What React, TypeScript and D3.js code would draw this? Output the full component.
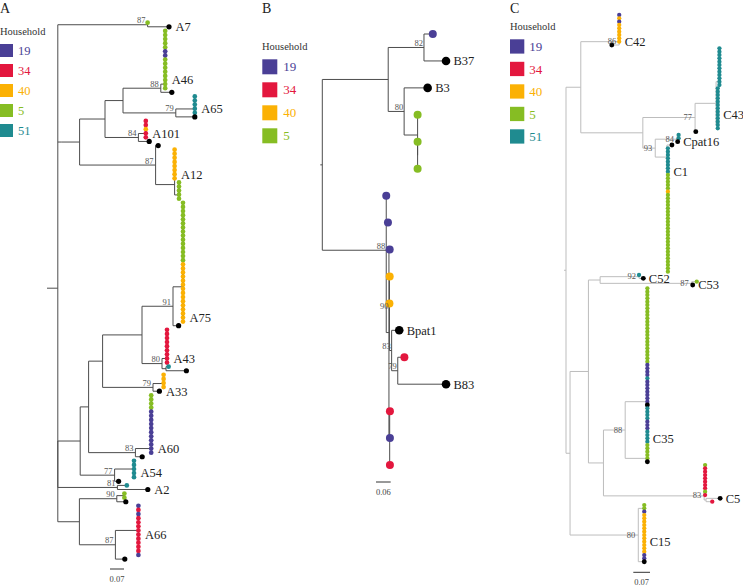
import React from 'react';
import * as d3 from 'd3';

// ---------- data ----------
const householdKeys = ['19', '34', '40', '5', '51'];
const householdColors = ['#4a3f96', '#e3173e', '#fbb104', '#86bd23', '#1f8b90'];
const legendA = ['19', '34', '40', '5', '51'];
const legendB = ['19', '34', '40', '5'];
const legendC = ['19', '34', '40', '5', '51'];

// Newick-like trees. Leaves: household code (coloured), k = reference sample (black), k^NAME labelled.
// {mode|items} = run of identical sequences (b: ladder to bottom, t: ladder to top, p: polytomy)
const treeA =
  '(((5:0,k^A7:0.107)87:0.449,((((({b|5x5;19x2;5x6;^A46;5x2}:0.022,k:0.055)88:0.189,' +
  '({b|51x4;^A65;51x1}:0.095,k:0.095)79:0.264):0.09,' +
  '({b|34x2;40x1;34x1;^A101;34x1}:0.037,k:0.054)84:0.167):0.127,' +
  '(k:0.013,({b|40x7;^A12;40x1}:0,{b|5x5}:0.022):0.095)87:0.38):0.089):0.02,' +
  '((((((({b|5x15}:0,{b|40x14;^A75;40x1}:0):0.05,k:0.028)91:0.155,' +
  '({b|34x8;^A43;34x1}:0.025,(51:0.013,k:0.102):0.02)80:0.1):0.197,' +
  '({b|40x4}:0.053,k^A33:0.032)79:0.252):0.07,' +
  '({b|5x4;19x10;^A60;19x1}:0.079,k:0.034)83:0.234):0.042,' +
  '({p|51x4;^A54;51x1}:0.097,k:0.02)77:0.172):0.112,' +
  '(51:0.047,k^A2:0.152)81:0.298):0,' +
  '(({b|5x2}:0.038,k:0.045)90:0.187,' +
  '({p|19;34;19;34x5;^A66;34x4;19}:0.115,k:0.047)87:0.18):0.108):0.044);';

const treeB =
  '(((19:0.036,k^B37:0.09)82:0.146,(k^B3:0.096,{t|5x3}:0.055)80:0.065):0.269,' +
  '(19:0,19:0.007,(19:0.003,(40:0.001,40:0,(k^Bpat1:0.031,(34:0.027,k^B83:0.197)79:0.025)83:0.009)90:0.002,' +
  '(34:0.001,19:0.001,34:0.001):0.003):0.011)88:0.261);';

const treeC =
  '((({b|19;40;19;40x6;^C42}:0,k:-0.031)86:0.161,' +
  '((({b|51x12}:0.014,{b|51x9;^C43;51x4}:0.007):0.088,k:0.003)77:0.219,' +
  '(({b|51x2}:0.007,k^Cpat16:0.003)84:0.091,' +
  '(k:0.021,({p|51x8;^C1}:0,{t|5x5;40;5x24}:0):0.004):0.049)93:0.052):0.26):0.062,' +
  '((((51:0,k^C52:0.018)92:0.163,(5:0.021,k^C53:0.004)87:0.384):0.049,' +
  '(({b|5x23;19x4;51;19x7;k}:0.093,{b|51x4;19x3;51x3;^C35;51x1;5x5;k}:0.093)88:0.091,' +
  '({b|5;34x7;5;34}:0.004,(k^C5:0.059,34:0.026):0.008)83:0.422):0.063):0.077,' +
  '({t|5x2;19;40x9;^C15;40x3;19x2}:0.025,k:0.025)80:0.286):0.017);';

const scaleValues = [0.07, 0.06, 0.07];
const scaleTexts = ['0.07', '0.06', '0.07'];

// ---------- parsing ----------
type TNode = { children?: TNode[]; bl: number; hh?: string; black?: boolean; label?: string; boot?: string };

function expandGroup(spec: string): TNode {
  const [mode, body] = spec.split('|');
  const leaves: TNode[] = [];
  body.split(';').forEach((item) => {
    if (item.startsWith('^')) { leaves[leaves.length - 1].label = item.slice(1); return; }
    if (item === 'k') { leaves.push({ bl: 0, black: true }); return; }
    const [hh, n] = item.split('x');
    const cnt = n ? +n : 1;
    for (let i = 0; i < cnt; i++) leaves.push({ bl: 0, hh });
  });
  if (leaves.length === 1) return leaves[0];
  if (mode === 'p') return { bl: 0, children: leaves };
  if (mode === 'b') {
    let cur: TNode = leaves[0];
    for (let i = 1; i < leaves.length; i++) cur = { bl: 0, children: [cur, leaves[i]] };
    return cur;
  }
  let cur: TNode = leaves[leaves.length - 1];
  for (let i = leaves.length - 2; i >= 0; i--) cur = { bl: 0, children: [leaves[i], cur] };
  return cur;
}

function parseNewick(s: string): TNode {
  let i = 0;
  const readToken = () => {
    let t = '';
    while (i < s.length && !',():;'.includes(s[i])) t += s[i++];
    return t;
  };
  function node(): TNode {
    let n: TNode;
    if (s[i] === '(') {
      i++;
      const children: TNode[] = [];
      for (;;) {
        children.push(node());
        if (s[i] === ',') { i++; continue; }
        break;
      }
      i++;
      n = { bl: 0, children };
      const b = readToken();
      if (b) n.boot = b;
    } else if (s[i] === '{') {
      const j = s.indexOf('}', i);
      n = expandGroup(s.slice(i + 1, j));
      i = j + 1;
    } else {
      const name = readToken();
      if (name.startsWith('k')) {
        n = { bl: 0, black: true };
        const c = name.indexOf('^');
        if (c >= 0) n.label = name.slice(c + 1);
      } else n = { bl: 0, hh: name };
    }
    if (s[i] === ':') { i++; n.bl = parseFloat(readToken()); }
    return n;
  }
  return node();
}

const colorScale = d3.scaleOrdinal<string, string>().domain(householdKeys).range(householdColors);
const FONT = 'Liberation Serif, DejaVu Serif, serif';

type PanelCfg = {
  tree: string; rootX: number; ppu: number; yTop: number; yBot: number;
  dotR: number; blackR: number; line: string; bootDx: number; bootDy: number;
  tipDx: number; tipFont: number; barX: number; barY: number; barTextY: number; bar: number;
  legend: string[]; letter: string; lx: number; titleY: number; sqX: number; sqTop: number; sq: number;
  sqGap: number; labX: number; labFont: number;
};

function Panel({ cfg }: { cfg: PanelCfg }) {
  const tree = parseNewick(cfg.tree);
  const root = d3.hierarchy<TNode>(tree, (d) => d.children);
  root.eachBefore((n: any) => { n.len = n.parent ? n.parent.len + n.data.bl : 0; });
  const leaves = root.leaves();
  leaves.forEach((l: any, k) => { l.row = k + 1; });
  root.eachAfter((n: any) => { if (n.children) n.row = d3.mean(n.children, (c: any) => c.row); });
  const xs = d3.scaleLinear().domain([0, 1]).range([cfg.rootX, cfg.rootX + cfg.ppu]);
  const ys = d3.scaleLinear().domain([1, leaves.length]).range([cfg.yTop, cfg.yBot]);
  const nodes: any[] = root.descendants();
  const r: any = root;
  const ff = { fontFamily: FONT };

  return (
    <g>
      <text x={cfg.lx} y={12.7} fontSize={14} style={ff} fill="#222">{cfg.letter}</text>
      <text x={cfg.lx} y={cfg.titleY} fontSize={10.5} style={ff} fill="#333">Household</text>
      {cfg.legend.map((h, k) => (
        <g key={h}>
          <rect x={cfg.sqX} y={cfg.sqTop + k * cfg.sqGap} width={cfg.sq} height={cfg.sq} fill={colorScale(h)} />
          <text x={cfg.labX} y={cfg.sqTop + k * cfg.sqGap + cfg.sq / 2 + cfg.labFont * 0.36}
            fontSize={cfg.labFont} style={ff} fill={colorScale(h)}>{h}</text>
        </g>
      ))}
      <g stroke={cfg.line} strokeWidth={1} fill="none">
        <line x1={xs(0) - 2} x2={xs(0)} y1={ys(r.row)} y2={ys(r.row)} />
        {nodes.filter((n) => n.parent && n.data.bl !== 0).map((n, k) => (
          <line key={'h' + k} x1={xs(n.parent.len)} x2={xs(n.len)} y1={ys(n.row)} y2={ys(n.row)} />
        ))}
        {nodes.filter((n) => n.children).map((n, k) => {
          const rows = n.children.map((c: any) => c.row);
          return <line key={'v' + k} x1={xs(n.len)} x2={xs(n.len)} y1={ys(d3.min(rows) as number)} y2={ys(d3.max(rows) as number)} />;
        })}
      </g>
      {leaves.map((l: any, k) => (
        <circle key={'d' + k} cx={xs(l.len)} cy={ys(l.row)} r={l.data.black ? cfg.blackR : cfg.dotR}
          fill={l.data.black ? '#000' : colorScale(l.data.hh)} />
      ))}
      {nodes.filter((n) => n.data.boot).map((n, k) => (
        <text key={'b' + k} x={xs(n.len) + cfg.bootDx} y={ys(n.row) + cfg.bootDy} textAnchor="end"
          fontSize={8.5} style={ff} fill="#555">{n.data.boot}</text>
      ))}
      {leaves.filter((l: any) => l.data.label).map((l: any, k) => (
        <text key={'t' + k} x={xs(l.len) + cfg.tipDx} y={ys(l.row) + cfg.tipFont * 0.35}
          fontSize={cfg.tipFont} style={ff} fill="#222">{l.data.label}</text>
      ))}
      <line x1={cfg.barX} x2={cfg.barX + cfg.bar * cfg.ppu} y1={cfg.barY} y2={cfg.barY} stroke="#333" strokeWidth={1} />
      <text x={cfg.barX + (cfg.bar * cfg.ppu) / 2} y={cfg.barTextY} textAnchor="middle" fontSize={8.5}
        style={ff} fill="#444">{scaleTexts[['A', 'B', 'C'].indexOf(cfg.letter)]}</text>
    </g>
  );
}

const panels: PanelCfg[] = [
  {
    tree: treeA, rootX: 49, ppu: 200, yTop: 22.7, yBot: 559.1, dotR: 2.35, blackR: 2.6, line: '#4d4d4d',
    bootDx: -2, bootDy: -1.5, tipDx: 6.5, tipFont: 12.5, barX: 110, barY: 569, barTextY: 581.5, bar: scaleValues[0],
    legend: legendA, letter: 'A', lx: 0, titleY: 35, sqX: 0, sqTop: 44, sq: 13, sqGap: 20, labX: 18, labFont: 12.5,
  },
  {
    tree: treeB, rootX: 322.3, ppu: 245, yTop: 34, yBot: 465, dotR: 4, blackR: 4.3, line: '#4d4d4d',
    bootDx: -1, bootDy: -1.5, tipDx: 7.5, tipFont: 12.5, barX: 376, barY: 482, barTextY: 495, bar: scaleValues[1],
    legend: legendB, letter: 'B', lx: 262, titleY: 50, sqX: 262.3, sqTop: 59.3, sq: 15, sqGap: 23, labX: 283.3, labFont: 13,
  },
  {
    tree: treeC, rootX: 566, ppu: 238.6, yTop: 15, yBot: 561.7, dotR: 2.15, blackR: 2.45, line: '#bdbdbd',
    bootDx: -3, bootDy: 2.5, tipDx: 5.5, tipFont: 12.5, barX: 633.3, barY: 572.3, barTextY: 585, bar: scaleValues[2],
    legend: legendC, letter: 'C', lx: 510, titleY: 30, sqX: 510, sqTop: 39.3, sq: 14.3, sqGap: 22.5, labX: 529.3, labFont: 13,
  },
];

export default function App() {
  return (
    <svg width={743} height={587} style={{ position: 'absolute', left: 0, top: 0, background: '#fff' }}>
      {panels.map((p) => <Panel key={p.letter} cfg={p} />)}
    </svg>
  );
}
